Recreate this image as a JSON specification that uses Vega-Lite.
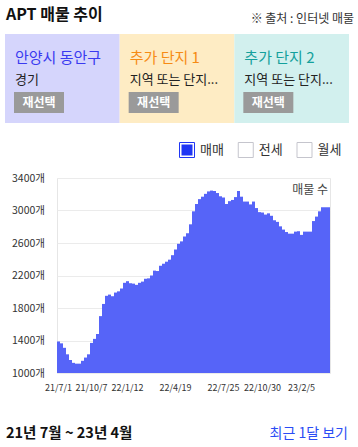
{
  "$schema": "https://vega.github.io/schema/vega-lite/v6.json",
  "background": "white",
  "padding": {"left": 5, "top": 0, "right": 0, "bottom": 0},
  "spacing": 0,
  "config": {
    "view": {"stroke": null},
    "font": "Noto Sans CJK KR",
    "text": {"font": "Noto Sans CJK KR"},
    "axis": {"labelFont": "Noto Sans CJK KR"},
    "title": {"font": "Noto Sans CJK KR"}
  },
  "datasets": {
    "panels": [
      {"i": 0, "panel": "안양시 동안구", "region": "경기"},
      {"i": 1, "panel": "추가 단지 1", "region": "지역 또는 단지..."},
      {"i": 2, "panel": "추가 단지 2", "region": "지역 또는 단지..."}
    ],
    "sales": [
      {"d": "21/7/1", "v": 1388}, {"d": "21/7/10", "v": 1365}, {"d": "21/7/19", "v": 1310}, {"d": "21/7/28", "v": 1230},
      {"d": "21/8/6", "v": 1160}, {"d": "21/8/15", "v": 1125}, {"d": "21/8/24", "v": 1115}, {"d": "21/9/2", "v": 1115},
      {"d": "21/9/11", "v": 1150}, {"d": "21/9/20", "v": 1190}, {"d": "21/9/29", "v": 1230}, {"d": "21/10/7", "v": 1370},
      {"d": "21/10/15", "v": 1420}, {"d": "21/10/23", "v": 1480}, {"d": "21/10/31", "v": 1700}, {"d": "21/11/8", "v": 1850},
      {"d": "21/11/16", "v": 1950}, {"d": "21/11/24", "v": 1965}, {"d": "21/12/2", "v": 1945}, {"d": "21/12/10", "v": 1990},
      {"d": "21/12/18", "v": 2005}, {"d": "21/12/26", "v": 2040}, {"d": "22/1/3", "v": 2110}, {"d": "22/1/12", "v": 2130},
      {"d": "22/1/18", "v": 2105}, {"d": "22/1/24", "v": 2100}, {"d": "22/1/30", "v": 2085}, {"d": "22/2/5", "v": 2110},
      {"d": "22/2/11", "v": 2125}, {"d": "22/2/17", "v": 2160}, {"d": "22/2/23", "v": 2165}, {"d": "22/3/1", "v": 2200},
      {"d": "22/3/7", "v": 2260}, {"d": "22/3/13", "v": 2255}, {"d": "22/3/19", "v": 2320}, {"d": "22/3/25", "v": 2345},
      {"d": "22/3/31", "v": 2370}, {"d": "22/4/6", "v": 2395}, {"d": "22/4/12", "v": 2450}, {"d": "22/4/19", "v": 2520},
      {"d": "22/4/25", "v": 2590}, {"d": "22/5/1", "v": 2620}, {"d": "22/5/7", "v": 2680}, {"d": "22/5/13", "v": 2720},
      {"d": "22/5/19", "v": 2830}, {"d": "22/5/25", "v": 2990}, {"d": "22/5/31", "v": 3080}, {"d": "22/6/6", "v": 3140},
      {"d": "22/6/12", "v": 3170}, {"d": "22/6/18", "v": 3205}, {"d": "22/6/24", "v": 3235}, {"d": "22/6/30", "v": 3245},
      {"d": "22/7/6", "v": 3240}, {"d": "22/7/12", "v": 3215}, {"d": "22/7/18", "v": 3175}, {"d": "22/7/25", "v": 3160},
      {"d": "22/8/1", "v": 3080}, {"d": "22/8/9", "v": 3115}, {"d": "22/8/16", "v": 3130}, {"d": "22/8/24", "v": 3165},
      {"d": "22/8/31", "v": 3240}, {"d": "22/9/8", "v": 3170}, {"d": "22/9/15", "v": 3110}, {"d": "22/9/23", "v": 3110},
      {"d": "22/9/30", "v": 3075}, {"d": "22/10/8", "v": 3110}, {"d": "22/10/15", "v": 3030}, {"d": "22/10/23", "v": 2980},
      {"d": "22/10/30", "v": 2975}, {"d": "22/11/7", "v": 2950}, {"d": "22/11/14", "v": 2965}, {"d": "22/11/22", "v": 2935},
      {"d": "22/11/29", "v": 2880}, {"d": "22/12/7", "v": 2860}, {"d": "22/12/14", "v": 2805}, {"d": "22/12/22", "v": 2765},
      {"d": "22/12/29", "v": 2735}, {"d": "23/1/6", "v": 2715}, {"d": "23/1/13", "v": 2715}, {"d": "23/1/21", "v": 2740},
      {"d": "23/1/28", "v": 2745}, {"d": "23/2/5", "v": 2700}, {"d": "23/2/12", "v": 2740}, {"d": "23/2/19", "v": 2740},
      {"d": "23/2/26", "v": 2740}, {"d": "23/3/5", "v": 2870}, {"d": "23/3/12", "v": 2925}, {"d": "23/3/19", "v": 2990},
      {"d": "23/3/26", "v": 3040}, {"d": "23/4/2", "v": 3040}, {"d": "23/4/9", "v": 3040}
    ]
  },
  "vconcat": [
    {
      "width": 344,
      "height": 34,
      "data": {"values": [{"pos": "left", "label": "APT 매물 추이"}, {"pos": "right", "label": "※ 출처 : 인터넷 매물"}]},
      "encoding": {
        "x": {"field": "pos", "type": "nominal", "scale": {"type": "point", "domain": ["left", "right"], "padding": 0}, "axis": null},
        "text": {"field": "label", "type": "nominal"}
      },
      "layer": [
        {
          "transform": [{"filter": "datum.pos === 'left'"}],
          "mark": {"type": "text", "align": "left", "baseline": "middle", "fontSize": 16, "fontWeight": "bold", "color": "#111111", "dx": 1, "dy": -2}
        },
        {
          "transform": [{"filter": "datum.pos === 'right'"}],
          "mark": {"type": "text", "align": "right", "baseline": "middle", "fontSize": 12, "color": "#333333", "dx": 5, "dy": 1.5}
        }
      ]
    },
    {
      "width": 344,
      "height": 89,
      "data": {"name": "panels"},
      "encoding": {
        "x": {"field": "i", "type": "quantitative", "scale": {"domain": [0, 3], "nice": false, "zero": false}, "axis": null}
      },
      "layer": [
        {
          "mark": {"type": "rect", "x2Offset": 114.667},
          "encoding": {
            "x2": {"field": "i"},
            "color": {"field": "panel", "type": "nominal", "sort": null, "scale": {"domain": ["안양시 동안구", "추가 단지 1", "추가 단지 2"], "range": ["#d5d5fc", "#feecc4", "#d2f0ee"]}, "legend": null}
          }
        },
        {
          "mark": {"type": "text", "align": "left", "baseline": "middle", "fontSize": 15, "dx": 10, "dy": 2.5},
          "encoding": {
            "y": {"datum": "title", "type": "nominal", "scale": {"type": "point", "domain": ["title", "sub", "btn"], "padding": 0.894}, "axis": null},
            "text": {"field": "panel", "type": "nominal"},
            "fill": {"field": "panel", "type": "nominal", "sort": null, "scale": {"domain": ["안양시 동안구", "추가 단지 1", "추가 단지 2"], "range": ["#3a3af0", "#f68b14", "#14a09c"]}, "legend": null}
          }
        },
        {
          "mark": {"type": "text", "align": "left", "baseline": "middle", "fontSize": 13, "color": "#222222", "dx": 10, "dy": 1},
          "encoding": {
            "y": {"datum": "sub", "type": "nominal"},
            "text": {"field": "region", "type": "nominal"}
          }
        },
        {
          "mark": {"type": "rect", "color": "#9a9a9a", "xOffset": 9, "x2Offset": 59, "yOffset": -10, "y2Offset": 11},
          "encoding": {
            "x2": {"field": "i"},
            "y": {"datum": "btn", "type": "nominal"},
            "y2": {"datum": "btn"}
          }
        },
        {
          "mark": {"type": "text", "align": "center", "baseline": "middle", "fontSize": 12, "fontWeight": "bold", "color": "white", "dx": 34, "dy": 1.5},
          "encoding": {
            "y": {"datum": "btn", "type": "nominal"},
            "text": {"value": "재선택"}
          }
        }
      ],
      "resolve": {"scale": {"color": "independent", "fill": "independent"}}
    },
    {
      "width": 299.5,
      "height": 49,
      "data": {"values": [{"k": 0, "type": "매매", "state": "on"}, {"k": 1, "type": "전세", "state": "off"}, {"k": 2, "type": "월세", "state": "off"}]},
      "encoding": {
        "x": {"field": "k", "type": "quantitative", "scale": {"domain": [-3.098, 2], "nice": false, "zero": false}, "axis": null}
      },
      "layer": [
        {
          "mark": {"type": "point", "shape": "square", "size": 225, "filled": true, "fill": "white", "strokeWidth": 1, "strokeOpacity": 1, "opacity": 1, "yOffset": 2.5},
          "encoding": {
            "stroke": {"field": "state", "type": "nominal", "scale": {"domain": ["on", "off"], "range": ["#2036f4", "#c5c5cd"]}, "legend": null}
          }
        },
        {
          "transform": [{"filter": "datum.state === 'on'"}],
          "mark": {"type": "point", "shape": "square", "size": 121, "filled": true, "color": "#2036f4", "opacity": 1, "yOffset": 2.5}
        },
        {
          "mark": {"type": "text", "align": "left", "baseline": "middle", "fontSize": 13, "color": "#333333", "dx": 13, "dy": 2.5},
          "encoding": {"text": {"field": "type", "type": "nominal"}}
        }
      ]
    },
    {
      "spacing": 0,
      "hconcat": [
        {
          "width": 1,
          "height": 1,
          "view": {"fill": "white", "stroke": null},
          "data": {"values": [{"label": ""}]},
          "mark": {"type": "text"},
          "encoding": {"text": {"field": "label", "type": "nominal"}}
        },
        {
          "width": 273,
          "height": 195,
          "view": {"stroke": "#e6e6e6"},
          "data": {"name": "sales"},
          "title": {"text": "매물 수", "anchor": "end", "frame": "group", "orient": "top", "offset": -24, "baseline": "top", "fontSize": 12, "fontWeight": "normal", "color": "#444444", "dx": -2},
          "mark": {"type": "bar", "color": "#5664f8"},
          "encoding": {
            "x": {
              "field": "d", "type": "ordinal", "sort": null,
              "scale": {"paddingInner": 0, "paddingOuter": 0},
              "axis": {"title": null, "values": ["21/7/1", "21/10/7", "22/1/12", "22/4/19", "22/7/25", "22/10/30", "23/2/5"], "labelAngle": 0, "ticks": false, "domain": false, "labelPadding": 10, "labelFontSize": 9, "labelColor": "#333333", "labelOverlap": false, "grid": false}
            },
            "y": {
              "field": "v", "type": "quantitative",
              "scale": {"domain": [1000, 3400], "zero": false, "nice": false},
              "axis": {"title": null, "values": [1000, 1400, 1800, 2200, 2600, 3000, 3400], "labelExpr": "datum.value + '개'", "ticks": false, "domain": false, "labelPadding": 12.5, "labelFontSize": 10.5, "labelColor": "#333333", "gridColor": "#ebebeb", "minExtent": 50, "maxExtent": 50}
            },
            "y2": {"datum": 1000}
          }
        }
      ]
    },
    {
      "width": 344,
      "height": 55,
      "data": {"values": [{"pos": "left", "label": "21년 7월 ~ 23년 4월"}, {"pos": "right", "label": "최근 1달 보기"}]},
      "encoding": {
        "x": {"field": "pos", "type": "nominal", "scale": {"type": "point", "domain": ["left", "right"], "padding": 0}, "axis": null},
        "text": {"field": "label", "type": "nominal"}
      },
      "layer": [
        {
          "transform": [{"filter": "datum.pos === 'left'"}],
          "mark": {"type": "text", "align": "left", "baseline": "middle", "fontSize": 14.5, "fontWeight": "bold", "color": "#111111", "dx": 1, "dy": 13}
        },
        {
          "transform": [{"filter": "datum.pos === 'right'"}],
          "mark": {"type": "text", "align": "right", "baseline": "middle", "fontSize": 14, "color": "#2a4cf5", "dx": -1, "dy": 13}
        }
      ]
    }
  ]
}
